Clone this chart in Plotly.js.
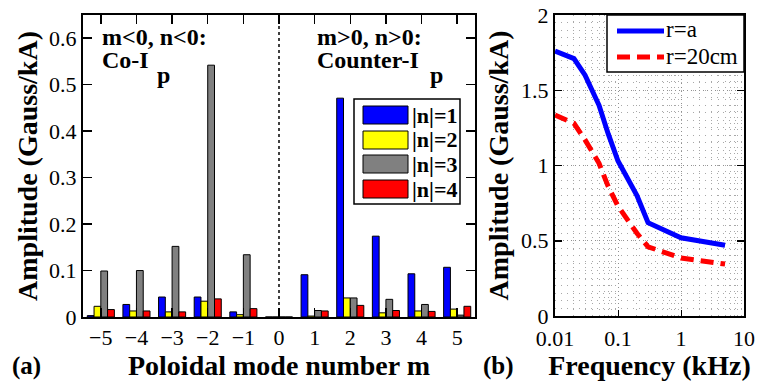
<!DOCTYPE html>
<html>
<head>
<meta charset="utf-8">
<script src="https://cdn.plot.ly/plotly-3.0.1.min.js"></script>
<style>html,body{margin:0;padding:0;background:#fff;}#chart{width:758px;height:381px;}</style>
</head>
<body>
<div id="chart"></div>
<script>
// ---- Data (panel a) ----
const modeM = [-5, -4, -3, -2, -1, 0, 1, 2, 3, 4, 5];
const ampN1 = [0.003, 0.027, 0.043, 0.043, 0.011, 0, 0.091, 0.471, 0.174, 0.093, 0.107];
const ampN2 = [0.023, 0.013, 0.011, 0.034, 0.005, 0, 0.002, 0.041, 0.009, 0.013, 0.017];
const ampN3 = [0.099, 0.100, 0.152, 0.542, 0.134, 0, 0.014, 0.041, 0.038, 0.027, 0.004];
const ampN4 = [0.016, 0.013, 0.011, 0.039, 0.018, 0, 0.013, 0.025, 0.014, 0.012, 0.023];
const seriesNames = ['|n|=1', '|n|=2', '|n|=3', '|n|=4'];
const seriesColors = ['#0000ff', '#ffff00', '#808080', '#ff0000'];

// ---- Data (panel b) ----
const freqKHz = [0.01, 0.02, 0.03, 0.05, 0.07, 0.1, 0.2, 0.3, 1, 5];
const ampRa   = [1.76, 1.71, 1.60, 1.40, 1.21, 1.03, 0.80, 0.62, 0.52, 0.47];
const ampR20  = [1.335, 1.28, 1.17, 1.015, 0.86, 0.73, 0.55, 0.46, 0.385, 0.345];
const lineNames = ['r=a', 'r=20cm'];

const W = 758, H = 381;
const px = x => x / W;
const py = y => 1 - y / H;
const FONT = '"Liberation Serif", "Times New Roman", Times, serif';

const barSets = [ampN1, ampN2, ampN3, ampN4];
const traces = barSets.map((vals, i) => ({
  type: 'bar', x: modeM, y: vals, name: seriesNames[i],
  marker: {color: seriesColors[i], line: {color: '#000', width: 1}},
  xaxis: 'x', yaxis: 'y', showlegend: false
}));
traces.push({
  type: 'scatter', mode: 'lines', x: freqKHz, y: ampRa, name: lineNames[0],
  line: {color: '#0000ff', width: 5}, xaxis: 'x2', yaxis: 'y2', showlegend: false
});
traces.push({
  type: 'scatter', mode: 'lines', x: freqKHz, y: ampR20, name: lineNames[1],
  line: {color: '#ff0000', width: 5, dash: '13px,7px'}, xaxis: 'x2', yaxis: 'y2', showlegend: false
});

const tickFont = {family: FONT, size: 22, color: '#000'};
const titleFont = {family: FONT, size: 28, color: '#000', weight: 'bold'};

const shapes = [];
const annotations = [];

// dotted line at m = 0
shapes.push({type: 'line', xref: 'x', yref: 'paper', x0: 0, x1: 0, y0: py(317), y1: py(15),
  line: {color: '#000', width: 1.5, dash: 'dot'}, layer: 'below'});

// legend (a)
shapes.push({type: 'rect', xref: 'paper', yref: 'paper', x0: px(354), x1: px(460), y0: py(204), y1: py(99),
  line: {color: '#000', width: 1.5}, fillcolor: '#fff'});
const rowC = [115, 140, 164, 189];
rowC.forEach((c, i) => {
  shapes.push({type: 'rect', xref: 'paper', yref: 'paper', x0: px(363), x1: px(408), y0: py(c + 9), y1: py(c - 9),
    line: {color: '#000', width: 1}, fillcolor: seriesColors[i]});
  annotations.push({xref: 'paper', yref: 'paper', x: px(410), y: py(c), xanchor: 'left', yanchor: 'middle',
    text: seriesNames[i], showarrow: false, font: {family: FONT, size: 22, color: '#000', weight: 'bold'}});
});

// legend (b)
shapes.push({type: 'rect', xref: 'paper', yref: 'paper', x0: px(607), x1: px(744), y0: py(72), y1: py(15),
  line: {color: '#000', width: 1.5}, fillcolor: '#fff'});
shapes.push({type: 'line', xref: 'paper', yref: 'paper', x0: px(617), x1: px(664), y0: py(31), y1: py(31),
  line: {color: '#0000ff', width: 5}});
shapes.push({type: 'line', xref: 'paper', yref: 'paper', x0: px(617), x1: px(664), y0: py(57), y1: py(57),
  line: {color: '#ff0000', width: 5, dash: '13px,7px'}});
annotations.push({xref: 'paper', yref: 'paper', x: px(664), y: py(30), xanchor: 'left', yanchor: 'middle',
  text: lineNames[0], showarrow: false, font: {family: FONT, size: 23, color: '#000'}});
annotations.push({xref: 'paper', yref: 'paper', x: px(664), y: py(56), xanchor: 'left', yanchor: 'middle',
  text: lineNames[1], showarrow: false, font: {family: FONT, size: 23, color: '#000'}});

// text labels in panel (a)
const bold24 = {family: FONT, size: 24, color: '#000', weight: 'bold'};
const txt = (x, y, t) => annotations.push({xref: 'paper', yref: 'paper', x: px(x), y: py(y), xanchor: 'left',
  yanchor: 'middle', text: t, showarrow: false, font: bold24});
txt(100, 37, 'm&lt;0, n&lt;0:');
txt(100, 60, 'Co-I');
txt(155, 75, 'p');
txt(315, 37, 'm&gt;0, n&gt;0:');
txt(315, 60, 'Counter-I');
txt(428, 75, 'p');

// panel labels
annotations.push({xref: 'paper', yref: 'paper', x: px(10), y: py(366), xanchor: 'left', yanchor: 'middle',
  text: '(a)', showarrow: false, font: {family: FONT, size: 25, color: '#000', weight: 'bold'}});
annotations.push({xref: 'paper', yref: 'paper', x: px(481), y: py(366), xanchor: 'left', yanchor: 'middle',
  text: '(b)', showarrow: false, font: {family: FONT, size: 25, color: '#000', weight: 'bold'}});

const gridCol = '#a8a8a8';
const layout = {
  width: W, height: H,
  margin: {l: 0, r: 0, t: 0, b: 0},
  paper_bgcolor: '#fff', plot_bgcolor: '#fff',
  barmode: 'group', bargap: 0.24, bargroupgap: 0,
  showlegend: false,
  xaxis: {
    domain: [px(83), px(475)], anchor: 'y', range: [-5.5, 5.5],
    tickvals: modeM, ticks: 'inside', ticklen: 9, tickwidth: 1.5, tickcolor: '#000',
    showline: true, linecolor: '#000', linewidth: 2, mirror: 'ticks',
    showgrid: false, zeroline: false, tickfont: tickFont, ticklabelstandoff: 0,
    title: {text: 'Poloidal mode number m', font: titleFont, standoff: 0}
  },
  yaxis: {
    domain: [py(317), py(15)], anchor: 'x', range: [0, 0.65],
    tickvals: [0, 0.1, 0.2, 0.3, 0.4, 0.5, 0.6], ticktext: ['0', '0.1', '0.2', '0.3', '0.4', '0.5', '0.6'],
    ticks: 'inside', ticklen: 9, tickwidth: 1.5, tickcolor: '#000',
    showline: true, linecolor: '#000', linewidth: 2, mirror: 'ticks',
    showgrid: false, zeroline: false, tickfont: tickFont,
    title: {text: 'Amplitude (Gauss/kA)', font: titleFont, standoff: 3}
  },
  xaxis2: {
    domain: [px(555), px(744)], anchor: 'y2', type: 'log', range: [-2, 1],
    tickvals: [0.01, 0.1, 1, 10], ticktext: ['0.01', '0.1', '1', '10'],
    ticks: 'inside', ticklen: 6, tickwidth: 1, tickcolor: '#000',
    showline: true, linecolor: '#000', linewidth: 2, mirror: 'ticks',
    showgrid: true, gridcolor: '#909090', griddash: '1px,3px', gridwidth: 1,
    minor: {tickvals: [0.02,0.03,0.04,0.05,0.06,0.07,0.08,0.09,0.2,0.3,0.4,0.5,0.6,0.7,0.8,0.9,2,3,4,5,6,7,8,9],
            showgrid: true, gridcolor: gridCol, griddash: '1px,5px', gridwidth: 1, ticks: ''},
    zeroline: false, tickfont: tickFont, ticklabelstandoff: 2,
    title: {text: 'Frequency (kHz)', font: titleFont, standoff: 0}
  },
  yaxis2: {
    domain: [py(316), py(15)], anchor: 'x2', range: [0, 2],
    tickvals: [0, 0.5, 1, 1.5, 2], ticktext: ['0', '0.5', '1', '1.5', '2'],
    ticks: 'inside', ticklen: 7, tickwidth: 1.5, tickcolor: '#000',
    showline: true, linecolor: '#000', linewidth: 2, mirror: 'ticks',
    showgrid: true, gridcolor: '#909090', griddash: '1px,3px', gridwidth: 1,
    minor: {dtick: 0.05, showgrid: true, gridcolor: gridCol, griddash: '1px,5px', gridwidth: 1, ticks: ''},
    zeroline: false, tickfont: tickFont,
    title: {text: 'Amplitude (Gauss/kA)', font: titleFont, standoff: 4}
  },
  shapes: shapes,
  annotations: annotations
};

Plotly.newPlot('chart', traces, layout, {displayModeBar: false, staticPlot: true});
</script>
</body>
</html>
